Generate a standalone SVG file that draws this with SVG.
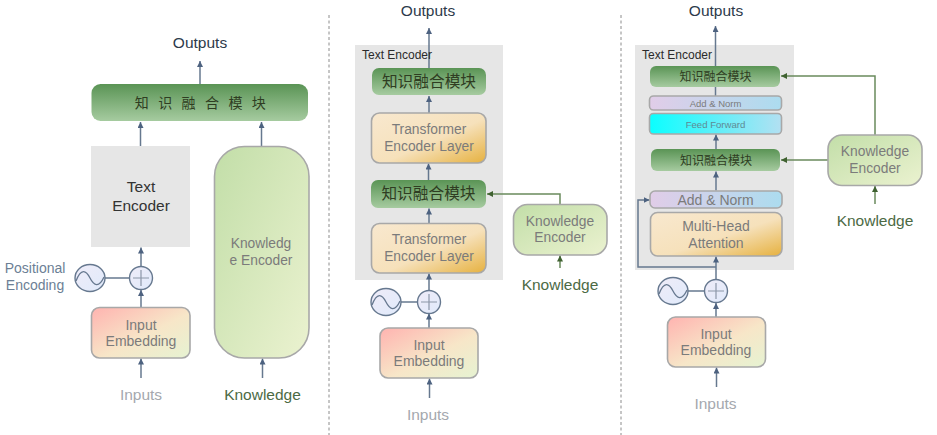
<svg xmlns="http://www.w3.org/2000/svg" width="937" height="435" viewBox="0 0 937 435">
<style>
text{font-family:"Liberation Sans",Arial,"Noto Sans CJK SC",sans-serif;text-anchor:middle}
.box{stroke:#a8a8a8;stroke-width:1.6}
.t{fill:#7b7b7b}
.cn{fill:#2f3d22;font-family:"Noto Sans CJK SC","Liberation Sans",sans-serif}
.out{fill:#2d3a4a;font-size:15.5px}
.inp{fill:#a4a8ae;font-size:15.5px}
.kn{fill:#4c6a44;font-size:15.5px}
.te{fill:#2b2b2b;font-size:12px;text-anchor:start}
.c{fill:none;stroke:#66788f;stroke-width:1.5}
.a{marker-end:url(#ah)}
.g{fill:none;stroke:#6a8a5c;stroke-width:1.5;marker-end:url(#ahg)}
.dash{stroke:#8c8c8c;stroke-width:1;stroke-dasharray:3 2.5;fill:none}
.gray{fill:#e6e6e6}
.circ{fill:url(#cir);stroke:#66788f;stroke-width:1.4}
.thin{fill:none;stroke:#8c97a8;stroke-width:1.2}
</style>
<defs>
<marker id="ah" markerUnits="userSpaceOnUse" markerWidth="7" markerHeight="7" refX="6" refY="3" orient="auto"><path d="M0 0L6 3L0 6Z" fill="#4d6280"/></marker>
<marker id="ahg" markerUnits="userSpaceOnUse" markerWidth="7" markerHeight="7" refX="6" refY="3" orient="auto"><path d="M0 0L6 3L0 6Z" fill="#3f6130"/></marker>
<linearGradient id="grn" x1="0" y1="0" x2="0" y2="1"><stop offset="0" stop-color="#5a9455"/><stop offset="1" stop-color="#a6cba0"/></linearGradient>
<linearGradient id="kn" x1="0" y1="0" x2="1" y2="1"><stop offset="0" stop-color="#c2dea8"/><stop offset="1" stop-color="#ebf2d0"/></linearGradient>
<linearGradient id="emb" x1="0" y1="0" x2="1" y2="1"><stop offset="0" stop-color="#ffb3b0"/><stop offset="0.55" stop-color="#f7e6c8"/><stop offset="1" stop-color="#e6f3d2"/></linearGradient>
<linearGradient id="tr" x1="0" y1="0" x2="1" y2="1"><stop offset="0" stop-color="#f8e8cf"/><stop offset="0.55" stop-color="#f6e1bb"/><stop offset="1" stop-color="#e6b13f"/></linearGradient>
<linearGradient id="an" x1="0" y1="0" x2="1" y2="0"><stop offset="0" stop-color="#e1cde8"/><stop offset="1" stop-color="#acdcef"/></linearGradient>
<linearGradient id="ff" x1="0" y1="0" x2="1" y2="0"><stop offset="0" stop-color="#0affff"/><stop offset="1" stop-color="#b3e0f2"/></linearGradient>
<linearGradient id="cir" x1="0" y1="0" x2="1" y2="1"><stop offset="0" stop-color="#efecf8"/><stop offset="1" stop-color="#e0eafb"/></linearGradient>
<path id="sine" d="M-14 3C-9 -10 -4 -8 0 0S9 10 14 -1" fill="none" stroke="#66788f" stroke-width="1.3"/>
<g id="plus"><circle class="circ" r="11.5"/><path class="thin" d="M-8 0H8M0 -8V8"/></g>
</defs>
<rect width="937" height="435" fill="#fff"/>

<path id="divider-1" class="dash" d="M329 15V435"/>
<path id="divider-2" class="dash" d="M621 15V435"/>

<g id="panel-backgrounds">
<rect id="p1-text-encoder" class="gray" x="91" y="146" width="99" height="101"/>
<rect id="p2-text-encoder" class="gray" x="355" y="45" width="148" height="235"/>
<rect id="p3-text-encoder" class="gray" x="635" y="45" width="159" height="225"/>
</g>

<g id="connectors">
<path class="c a" d="M200 84V61"/>
<path class="c a" d="M140.500 146V122"/>
<path class="c a" d="M261.500 146V122"/>
<path class="c a" d="M141 266.500V247.500"/>
<path class="c a" d="M141 307V290"/>
<path class="c" d="M105 278H129.500"/>
<path class="c a" d="M141 378V358.500"/>
<path class="c a" d="M262.500 378V358.500"/>

<path class="c a" d="M429 68V28"/>
<path class="c a" d="M429 113V96"/>
<path class="c a" d="M428.500 180V163.500"/>
<path class="c a" d="M429 223V208.500"/>
<path class="c a" d="M429 290.500V273.500"/>
<path class="c" d="M401 302H417.500"/>
<path class="c a" d="M429 328V313.500"/>
<path class="c a" d="M429.500 398V378.500"/>
<path class="g" d="M560 204V194H487"/>
<path class="g" d="M560 268V255.500"/>

<path class="c a" d="M715.500 66V26"/>
<path class="c" d="M715.500 87V96"/>
<path class="c a" d="M716 149V134.500"/>
<path class="c a" d="M716 190.500V171.500"/>
<path class="c a" d="M716 279.500V256.500"/>
<path class="c a" d="M716 267H638V200H649.500"/>
<path class="c" d="M688 291H704.500"/>
<path class="c a" d="M716 317V303"/>
<path class="c a" d="M716.500 387V367.500"/>
<path class="g" d="M875 135V76H781"/>
<path class="g" d="M828 160H781"/>
<path class="g" d="M875 204V186"/>
</g>

<g id="p1-outputs"><text class="out" x="200" y="48">Outputs</text></g>
<g id="p1-fusion"><rect x="91.500" y="84" width="216.500" height="37" rx="9" fill="url(#grn)"/><text class="cn" x="205" y="108" font-size="14" letter-spacing="9.400">知识融合模块</text></g>
<g id="p1-text-enc"><text x="141" y="192" font-size="15.500" fill="#333">Text</text><text x="141" y="211" font-size="15.500" fill="#333">Encoder</text></g>
<g id="p1-knowledge-enc"><rect class="box" x="214.500" y="146.500" width="94.500" height="211.500" rx="30" fill="url(#kn)"/><text class="t" x="261" y="248" font-size="13.800">Knowledg</text><text class="t" x="261" y="265" font-size="13.800">e Encoder</text></g>
<g id="p1-embedding"><rect class="box" x="91.500" y="307.500" width="98.500" height="50.500" rx="8" fill="url(#emb)"/><text class="t" x="141" y="330" font-size="14">Input</text><text class="t" x="141" y="345.500" font-size="14">Embedding</text></g>
<g id="p1-plus"><use href="#plus" x="141" y="278"/></g>
<g id="p1-positional"><ellipse class="circ" cx="90" cy="278" rx="15" ry="13.500"/><use href="#sine" x="90" y="278"/><text x="35" y="273" font-size="14" fill="#6c7f95">Positional</text><text x="35" y="290" font-size="14" fill="#6c7f95">Encoding</text></g>
<g id="p1-inputs"><text class="inp" x="141" y="400">Inputs</text></g>
<g id="p1-knowledge"><text class="kn" x="262.500" y="400">Knowledge</text></g>

<g id="p2-outputs"><text class="out" x="428" y="16">Outputs</text></g>
<text class="te" x="362" y="59">Text Encoder</text>
<g id="p2-fusion-top"><rect x="372" y="68" width="114" height="27" rx="7" fill="url(#grn)"/><text class="cn" x="429" y="86.500" font-size="15.700">知识融合模块</text></g>
<g id="p2-layer-top"><rect class="box" x="371.500" y="113" width="114.500" height="50" rx="8" fill="url(#tr)"/><text class="t" x="429" y="134" font-size="13.800">Transformer</text><text class="t" x="429" y="151" font-size="13.800">Encoder Layer</text></g>
<g id="p2-fusion-bottom"><rect x="371" y="180" width="115" height="28" rx="7" fill="url(#grn)"/><text class="cn" x="428.500" y="199" font-size="15.700">知识融合模块</text></g>
<g id="p2-layer-bottom"><rect class="box" x="371.500" y="223.500" width="114.500" height="49.500" rx="8" fill="url(#tr)"/><text class="t" x="429" y="244" font-size="13.800">Transformer</text><text class="t" x="429" y="261" font-size="13.800">Encoder Layer</text></g>
<g id="p2-plus"><use href="#plus" x="429" y="302"/></g>
<g id="p2-positional"><ellipse class="circ" cx="386" cy="302" rx="15" ry="13.500"/><use href="#sine" x="386" y="302"/></g>
<g id="p2-embedding"><rect class="box" x="380" y="328" width="98" height="50" rx="8" fill="url(#emb)"/><text class="t" x="429" y="350" font-size="14">Input</text><text class="t" x="429" y="366" font-size="14">Embedding</text></g>
<g id="p2-inputs"><text class="inp" x="428" y="420">Inputs</text></g>
<g id="p2-knowledge-enc"><rect class="box" x="513.500" y="204.500" width="93.500" height="50.500" rx="14" fill="url(#kn)"/><text class="t" x="560" y="226" font-size="13.800">Knowledge</text><text class="t" x="560" y="242" font-size="13.800">Encoder</text></g>
<g id="p2-knowledge"><text class="kn" x="560" y="290">Knowledge</text></g>

<g id="p3-outputs"><text class="out" x="716" y="16">Outputs</text></g>
<text class="te" x="642" y="59">Text Encoder</text>
<g id="p3-fusion-top"><rect x="650" y="66" width="130" height="21" rx="6" fill="url(#grn)"/><text class="cn" x="715.500" y="81" font-size="12">知识融合模块</text></g>
<g id="p3-addnorm-top"><rect class="box" x="649.500" y="96" width="132" height="14" rx="4" fill="url(#an)"/><text class="t" x="715.500" y="107" font-size="9.500">Add &amp; Norm</text></g>
<g id="p3-feedforward"><rect class="box" x="649.500" y="113.500" width="132" height="20.500" rx="4" fill="url(#ff)"/><text x="715.500" y="127.500" font-size="9.600" fill="#5f8a94">Feed Forward</text></g>
<g id="p3-fusion-bottom"><rect x="651" y="149" width="129" height="22" rx="6" fill="url(#grn)"/><text class="cn" x="716" y="164.500" font-size="12">知识融合模块</text></g>
<g id="p3-addnorm-bottom"><rect class="box" x="650" y="191" width="132" height="17" rx="5" fill="url(#an)"/><text class="t" x="715.500" y="205" font-size="14">Add &amp; Norm</text></g>
<g id="p3-attention"><rect class="box" x="650.500" y="212.500" width="131.500" height="43.500" rx="7" fill="url(#tr)"/><text class="t" x="716" y="231" font-size="14">Multi-Head</text><text class="t" x="716" y="247.500" font-size="14">Attention</text></g>
<g id="p3-plus"><use href="#plus" x="716" y="291"/></g>
<g id="p3-positional"><ellipse class="circ" cx="673" cy="291" rx="15" ry="13.500"/><use href="#sine" x="673" y="291"/></g>
<g id="p3-embedding"><rect class="box" x="667.500" y="317" width="98" height="50" rx="8" fill="url(#emb)"/><text class="t" x="716" y="339" font-size="14">Input</text><text class="t" x="716" y="355" font-size="14">Embedding</text></g>
<g id="p3-inputs"><text class="inp" x="715.500" y="409">Inputs</text></g>
<g id="p3-knowledge-enc"><rect class="box" x="828" y="135" width="94" height="50.500" rx="14" fill="url(#kn)"/><text class="t" x="875" y="156" font-size="13.800">Knowledge</text><text class="t" x="875" y="173" font-size="13.800">Encoder</text></g>
<g id="p3-knowledge"><text class="kn" x="875" y="226">Knowledge</text></g>
</svg>
